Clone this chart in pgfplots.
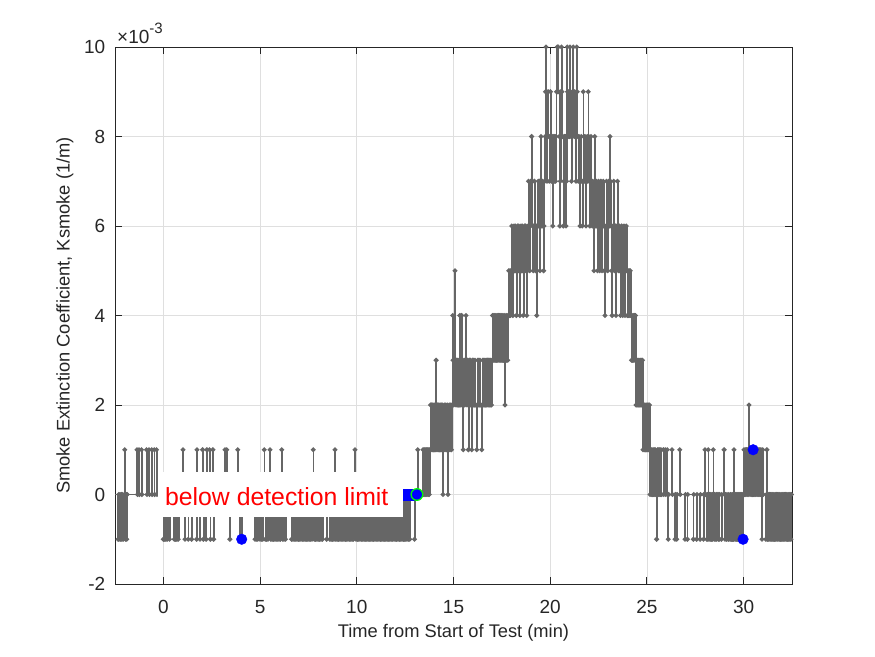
\documentclass[border=0pt]{standalone}
\usepackage{pgfplots}
\pgfplotsset{compat=1.18}
\usepackage{fontspec}
\setmainfont{Liberation Sans}
\definecolor{axiscol}{HTML}{262626}
\definecolor{sig}{HTML}{666666}
\definecolor{sigmark}{HTML}{707070}
\definecolor{gridcol}{HTML}{DFDFDF}
\begin{document}
\begin{tikzpicture}
\useasboundingbox (0,0) rectangle (875pt,656pt);
\begin{axis}[
  at={(115pt,72pt)}, anchor=south west,
  scale only axis, width=677pt, height=537pt,
  xmin=-2.5, xmax=32.5, ymin=-2, ymax=10,
  xtick={0,5,...,30}, ytick={-2,0,...,10},
  grid=major, major grid style={color=gridcol, line width=0.8pt},
  axis line style={color=axiscol, line width=0.9pt},
  tick style={color=axiscol, line width=0.9pt},
  major tick length=6.7pt, tick align=inside,
  xtick pos=both, ytick pos=both,
  /pgf/number format/assume math mode=true,
  tick label style={font=\fontsize{19}{19}\selectfont, text=axiscol},
  xticklabel style={anchor=center, inner sep=0pt, yshift=-22.7pt},
  yticklabel style={anchor=east, inner sep=0pt, xshift=-9.5pt},
  label style={font=\fontsize{18.3}{18.3}\selectfont, text=axiscol},
  xlabel={Time from Start of Test (min)},
  ylabel={Smoke Extinction Coefficient, Ksmoke (1/m)},
  xlabel style={at={(axis description cs:0.5,-0.0912)}, anchor=center},
  ylabel style={at={(axis description cs:-0.0739,0.5)}, anchor=center},
  clip=true,
]
\addplot[const plot, color=sig, line width=1.5pt, mark=*, mark size=1.6pt,
  mark options={fill=sigmark, draw=none}] coordinates {
(-2.6,0)(-2.34,-1)(-2.31,0)(-2.29,-1)(-2.24,0)(-2.22,-1)(-2.17,0)(-2.15,-1)(-2.1,0)(-2.08,-1)(-2.0,1)(-1.98,0)(-1.96,-1)(-1.91,0)(-1.89,-1)(-1.87,0)
(-1.36,1)(-1.34,0)(-1.26,1)(-1.24,0)(-1.13,1)(-1.11,0)(-0.87,1)(-0.85,0)(-0.74,1)(-0.72,0)(-0.6,1)(-0.58,0)(-0.47,1)(-0.45,0)(-0.35,1)(-0.33,0)
(0.0,-1)(0.03,0)(0.06,-1)(0.1,0)(0.13,-1)(0.17,0)(0.2,-1)(0.23,0)(0.32,-1)(0.35,0)(0.56,-1)(0.59,0)(0.62,-1)(0.66,0)(0.7,-1)(0.74,0)(0.77,-1)(0.8,0)
(1.02,1)(1.04,0)(1.12,-1)(1.14,0)(1.29,-1)(1.31,0)(1.46,-1)(1.48,0)(1.72,-1)(1.74,1)(1.76,0)(1.89,-1)(1.91,0)
(2.03,1)(2.05,0)(2.07,-1)(2.09,0)(2.21,-1)(2.23,0)(2.25,1)(2.27,0)(2.39,1)(2.41,0)(2.43,-1)(2.45,0)(2.56,1)(2.58,0)(2.6,-1)(2.62,0)
(3.19,1)(3.21,0)(3.28,1)(3.3,0)(3.44,-1)(3.46,0)(3.85,1)(3.87,0)(3.96,-1)(3.98,0)(4.05,-1)(4.07,0)
(4.74,-1)(4.78,0)(4.8,-1)(4.84,0)(4.88,-1)(4.92,0)(5.0,-1)(5.04,0)(5.07,-1)(5.11,0)(5.14,-1)(5.18,0)(5.22,1)(5.24,0)(5.27,-1)(5.31,0)(5.34,-1)(5.38,0)(5.41,-1)(5.45,0)(5.51,1)(5.53,0)(5.56,-1)(5.6,0)(5.63,-1)(5.67,0)(5.7,-1)(5.74,0)(5.77,-1)(5.81,0)(5.84,-1)(5.88,0)(5.91,-1)(5.95,0)(5.98,-1)(6.02,0)(6.05,-1)(6.09,0)(6.12,1)(6.14,0)(6.17,-1)(6.21,0)(6.24,-1)(6.28,0)(6.31,-1)(6.35,0)
(6.63,-1)(6.67,0)(6.7,-1)(6.74,0)(6.77,-1)(6.81,0)(6.84,-1)(6.88,0)(6.91,-1)(6.95,0)(6.98,-1)(7.02,0)(7.05,-1)(7.09,0)(7.12,-1)(7.16,0)(7.19,-1)(7.23,0)(7.26,-1)(7.3,0)(7.33,-1)(7.37,0)(7.4,-1)(7.44,0)(7.47,-1)(7.51,0)(7.54,-1)(7.58,0)(7.61,-1)(7.65,0)(7.68,-1)(7.72,0)(7.75,1)(7.77,0)(7.8,-1)(7.84,0)(7.87,-1)(7.91,0)(7.94,-1)(7.98,0)(8.01,-1)(8.05,0)(8.08,-1)(8.12,0)(8.15,-1)(8.19,0)(8.22,-1)(8.26,0)
(8.44,-1)(8.46,0)
(8.61,-1)(8.65,0)(8.68,-1)(8.72,0)(8.75,-1)(8.79,0)(8.82,-1)(8.85,0)(8.87,1)(8.89,0)(8.92,-1)(8.96,0)(8.99,-1)(9.03,0)(9.06,-1)(9.1,0)(9.13,-1)(9.17,0)(9.2,-1)(9.24,0)(9.27,-1)(9.31,0)(9.34,-1)(9.38,0)(9.41,-1)(9.45,0)(9.48,-1)(9.52,0)(9.55,-1)(9.59,0)(9.62,-1)(9.66,0)(9.69,-1)(9.73,0)(9.76,-1)(9.8,0)(9.83,-1)(9.87,0)(9.91,1)(9.93,0)(9.96,-1)(10.0,0)
(10.03,-1)(10.07,0)(10.1,-1)(10.14,0)(10.17,-1)(10.21,0)(10.24,-1)(10.28,0)(10.31,-1)(10.35,0)(10.38,-1)(10.42,0)(10.45,-1)(10.49,0)(10.52,-1)(10.56,0)(10.59,-1)(10.63,0)(10.66,-1)(10.7,0)(10.73,-1)(10.77,0)(10.8,-1)(10.84,0)(10.87,-1)(10.91,0)(10.94,-1)(10.98,0)
(11.01,-1)(11.05,0)(11.08,-1)(11.12,0)(11.15,-1)(11.19,0)(11.22,-1)(11.26,0)(11.29,-1)(11.33,0)(11.36,-1)(11.4,0)(11.43,-1)(11.47,0)(11.5,-1)(11.54,0)(11.57,-1)(11.61,0)(11.64,-1)(11.68,0)(11.71,-1)(11.75,0)(11.78,-1)(11.82,0)(11.85,-1)(11.89,0)(11.92,-1)(11.96,0)(11.99,-1)
(12.03,0)(12.06,-1)(12.1,0)(12.13,-1)(12.17,0)(12.2,-1)(12.24,0)(12.27,-1)(12.31,0)(12.34,-1)(12.38,0)(12.41,-1)(12.44,0)(12.47,-1)(12.5,0)(12.53,-1)(12.57,0)(12.6,-1)(12.64,0)(12.67,-1)(12.71,0)(12.74,-1)(12.77,0)(12.98,-1)(13.01,0)(13.15,1)(13.17,0)
(13.42,1)(13.45,0)(13.48,1)(13.51,0)(13.54,1)(13.57,0)(13.6,1)(13.63,0)(13.66,1)(13.69,0)(13.72,1)(13.75,0)(13.78,1)
(13.81,2)(13.84,1)(13.87,2)(13.9,1)(13.93,2)(13.96,1)(13.99,2)(14.02,1)(14.05,2)(14.08,1)(14.1,3)(14.12,2)(14.15,1)(14.18,2)(14.21,1)(14.24,2)(14.27,1)(14.3,2)(14.33,1)(14.36,2)(14.39,1)(14.42,2)
(14.46,0)(14.49,1)(14.52,2)(14.56,1)(14.6,2)(14.64,1)(14.68,2)(14.72,0)(14.75,1)(14.78,2)(14.82,1)(14.86,2)(14.9,1)
(14.93,2)(14.96,4)(14.98,3)(15.01,2)(15.04,3)(15.08,5)(15.1,3)(15.13,2)(15.16,3)(15.19,2)(15.22,3)(15.25,2)(15.28,3)(15.31,2)(15.33,4)(15.35,3)(15.38,2)(15.42,4)(15.44,3)
(15.47,2)(15.5,1)(15.52,2)(15.55,3)(15.58,2)(15.61,3)(15.65,4)(15.67,3)(15.7,2)(15.73,3)(15.77,1)(15.79,2)(15.82,3)(15.85,2)(15.88,3)(15.91,2)(15.94,1)(15.96,2)(15.99,3)(16.02,2)(16.05,3)(16.08,2)(16.11,3)(16.14,2)(16.2,1)(16.22,2)(16.25,3)(16.28,2)(16.31,3)(16.34,2)(16.37,3)(16.4,2)(16.46,1)(16.48,2)(16.51,3)(16.54,2)(16.57,3)(16.6,2)(16.63,3)(16.66,2)(16.69,3)(16.72,2)(16.75,3)(16.78,2)(16.81,3)(16.84,2)(16.87,3)(16.9,2)(16.93,3)(16.96,2)(16.99,3)
(17.02,4)(17.05,3)(17.08,4)(17.11,3)(17.14,4)(17.17,3)(17.2,4)(17.23,3)(17.26,4)(17.29,3)(17.32,4)(17.35,3)(17.38,4)(17.41,3)(17.44,4)(17.47,3)(17.5,4)(17.53,3)(17.56,4)(17.59,3)(17.62,4)(17.66,2)(17.68,3)(17.71,4)(17.74,3)(17.77,4)(17.8,3)(17.83,4)(17.86,5)(17.89,4)
(17.92,5)(17.95,4)(17.98,5)
(18.01,6)(18.04,5)(18.07,4)(18.1,5)(18.13,6)(18.16,5)(18.19,6)(18.22,5)(18.25,4)(18.28,5)(18.31,6)(18.34,5)(18.37,6)(18.4,5)(18.43,4)(18.46,5)(18.49,6)(18.52,5)(18.55,6)(18.58,5)(18.61,4)(18.64,5)(18.67,6)(18.7,5)(18.73,6)(18.76,5)(18.79,4)(18.82,5)
(18.85,6)(18.88,7)(18.91,6)(18.94,5)(18.97,6)(19.0,7)(19.04,8)(19.06,7)(19.09,6)(19.12,5)(19.15,6)(19.18,7)(19.21,6)(19.24,5)(19.27,6)(19.3,4)(19.32,5)
(19.35,6)(19.38,7)(19.41,6)(19.44,7)(19.47,5)(19.49,6)(19.52,8)(19.54,7)(19.57,6)(19.6,7)(19.63,6)(19.66,5)(19.68,6)(19.71,7)
(19.74,8)(19.76,9)(19.78,10)(19.8,8)(19.83,7)(19.86,8)(19.89,9)(19.92,8)(19.95,7)(19.98,8)(20.01,9)(20.04,8)(20.07,7)(20.1,8)
(20.13,6)(20.15,7)(20.18,8)(20.21,7)(20.24,8)(20.27,7)(20.3,8)(20.33,9)(20.36,10)(20.38,9)(20.41,10)(20.44,9)(20.47,8)(20.5,6)(20.52,7)(20.55,9)(20.58,10)(20.61,9)(20.64,8)(20.68,6)(20.7,7)(20.73,8)(20.76,7)(20.79,8)(20.82,6)(20.84,7)
(20.86,8)(20.88,10)(20.9,9)(20.93,8)(20.96,9)(20.99,8)(21.02,10)(21.04,9)(21.07,8)(21.1,7)(21.13,8)(21.16,9)(21.19,10)(21.21,9)(21.24,8)(21.27,9)(21.3,8)(21.33,7)(21.37,10)(21.39,9)(21.42,8)
(21.45,7)(21.48,8)(21.51,7)(21.54,6)(21.57,7)(21.6,8)(21.63,7)(21.66,6)(21.69,7)(21.71,9)(21.73,8)(21.76,7)(21.79,8)(21.82,7)(21.85,6)(21.88,7)(21.91,8)(21.94,7)(21.97,9)(21.99,8)(22.02,7)(22.05,6)(22.08,7)(22.11,8)(22.14,7)
(22.17,6)(22.2,7)(22.23,6)(22.26,5)(22.28,6)(22.3,8)(22.32,7)(22.35,6)(22.38,7)(22.41,6)(22.44,5)(22.47,6)(22.5,7)(22.53,6)(22.56,5)(22.59,6)(22.62,7)(22.65,6)(22.68,5)(22.71,6)(22.74,7)(22.77,6)
(22.8,5)(22.83,4)(22.85,5)(22.88,6)(22.91,7)(22.94,6)(22.97,5)(23.0,6)(23.03,7)(23.06,6)(23.09,8)(23.11,7)(23.14,6)(23.17,5)(23.2,4)(23.22,5)(23.25,6)(23.28,7)(23.31,6)(23.34,5)(23.37,6)(23.4,4)(23.42,5)(23.45,6)(23.48,7)(23.51,6)(23.54,5)(23.57,6)
(23.6,5)(23.63,4)(23.66,5)(23.69,6)(23.72,5)(23.75,4)(23.78,5)(23.81,6)(23.84,5)(23.87,4)(23.9,5)(23.93,6)(23.96,5)(23.99,4)(24.02,5)(24.05,4)(24.08,5)(24.11,4)(24.14,5)(24.17,4)
(24.2,3)(24.23,4)(24.26,3)(24.29,4)(24.32,3)(24.35,4)(24.38,3)(24.41,4)
(24.44,2)(24.47,3)(24.5,2)(24.53,3)(24.56,2)(24.59,3)(24.62,2)(24.65,3)(24.68,2)(24.71,3)(24.74,2)(24.77,3)
(24.8,1)(24.83,2)(24.86,1)(24.89,2)(24.92,1)(24.95,2)(24.98,1)(25.01,2)(25.04,1)(25.07,2)(25.1,1)(25.13,2)
(25.16,0)(25.19,1)(25.22,0)(25.25,1)(25.28,0)(25.31,1)(25.34,0)(25.37,1)(25.4,0)(25.43,1)(25.46,0)(25.5,-1)(25.52,0)(25.55,1)(25.58,0)(25.61,1)(25.64,0)(25.67,1)(25.7,0)(25.73,1)(25.76,0)
(25.85,1)(25.87,0)(25.95,1)(25.97,0)(26.05,1)(26.07,0)(26.1,-1)(26.12,0)(26.3,1)(26.32,0)(26.45,-1)(26.47,0)(26.54,-1)(26.56,0)(26.7,1)(26.72,0)
(26.97,-1)(26.99,0)(27.09,-1)(27.11,0)(27.4,-1)(27.42,0)(27.57,-1)(27.59,0)(27.75,-1)(27.77,0)(27.92,-1)(27.94,0)(28.0,1)(28.02,0)(28.09,-1)(28.11,0)(28.14,-1)(28.16,0)(28.17,1)(28.19,0)(28.21,-1)(28.24,0)(28.27,-1)(28.3,0)(28.33,-1)(28.36,0)(28.39,-1)(28.41,0)(28.43,1)(28.45,0)(28.48,-1)(28.5,0)
(28.56,-1)(28.58,0)(28.61,-1)(28.63,0)(28.7,-1)(28.72,0)(28.74,-1)(28.76,0)(28.85,-1)(28.87,0)(28.99,1)(29.01,0)(29.04,-1)(29.06,0)(29.12,-1)(29.14,0)(29.21,-1)(29.23,0)(29.3,-1)(29.32,0)(29.38,-1)(29.4,0)(29.43,-1)(29.45,0)(29.47,-1)(29.49,0)(29.5,1)(29.52,0)(29.55,-1)(29.57,0)(29.6,-1)(29.62,0)(29.65,-1)(29.67,0)(29.7,-1)(29.72,0)(29.75,-1)(29.77,0)(29.8,-1)(29.82,0)(29.85,-1)(29.87,0)(29.9,-1)(29.92,0)(29.97,-1)(29.99,0)
(30.02,1)(30.05,0)(30.08,1)(30.11,0)(30.14,1)(30.17,0)(30.2,1)(30.23,0)(30.26,1)(30.28,2)(30.3,1)(30.33,0)(30.36,1)(30.39,0)(30.42,1)(30.45,0)(30.48,1)(30.51,0)(30.54,1)(30.57,0)(30.6,1)(30.63,0)(30.66,1)(30.69,0)(30.72,1)(30.75,0)(30.78,1)(30.81,0)(30.84,1)(30.87,0)(30.9,1)(30.93,0)
(30.95,-1)(30.97,0)(30.99,1)(31.01,0)(31.15,-1)(31.18,0)(31.2,1)(31.22,0)(31.24,-1)(31.27,0)(31.3,-1)(31.33,0)(31.36,-1)(31.39,0)(31.42,-1)(31.45,0)(31.48,-1)(31.51,0)(31.54,-1)(31.57,0)(31.6,-1)(31.63,0)(31.66,-1)(31.69,0)(31.72,-1)(31.75,0)(31.78,-1)(31.81,0)(31.84,-1)(31.87,0)(31.9,-1)(31.93,0)(31.96,-1)(31.99,0)
(32.02,-1)(32.05,0)(32.08,-1)(32.11,0)(32.14,-1)(32.17,0)(32.2,-1)(32.23,0)(32.26,-1)(32.29,0)(32.32,-1)(32.35,0)(32.38,-1)(32.41,0)(32.44,-1)(32.47,0)(32.6,0)
};
\addplot[only marks, mark=square*, mark size=5.3pt, color=blue, mark options={fill=blue, draw=none}] coordinates {(12.68,0)};
\addplot[only marks, mark=*, mark size=5.3pt, color=blue, mark options={fill=blue, draw=none}] coordinates {(4.05,-1)(29.97,-1)(30.49,1)};
\addplot[only marks, mark=*, mark size=5.8pt, color=blue, mark options={fill=blue, draw=green, line width=1.3pt}] coordinates {(13.11,0)};
\coordinate (boxbl) at (axis cs:-0.28,-0.5);
\coordinate (boxtr) at (axis cs:12.39,0.5);
\coordinate (txt) at (axis cs:0.08,-0.235);
\end{axis}
\fill[white] (boxbl) rectangle (boxtr);
\node[anchor=base west, inner sep=0pt, text=red, font=\fontsize{24.8}{24.8}\selectfont] at (txt) {below detection limit};
\node[anchor=base west, inner sep=0pt, text=axiscol, font=\fontsize{19}{19}\selectfont] at (117pt,612pt) {×10\raisebox{10pt}{\fontsize{15}{15}\selectfont -3}};
\end{tikzpicture}
\end{document}
